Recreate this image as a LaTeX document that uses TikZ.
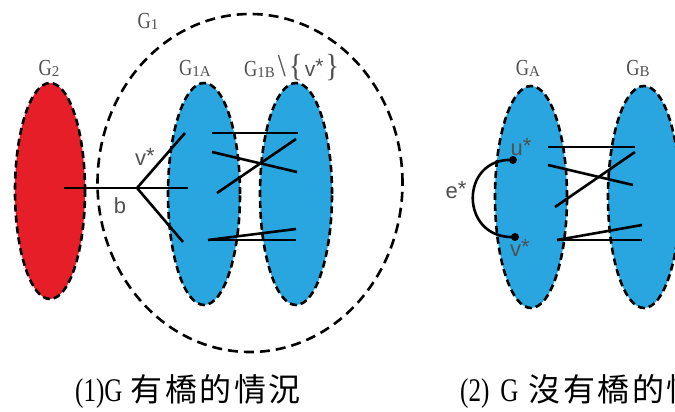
\documentclass[tikz,border=0pt]{standalone}
\usepackage{fontspec}
\setmainfont{Liberation Serif}
\setsansfont{Liberation Sans}
\newfontfamily\cjk[LetterSpace=8]{Noto Sans CJK TC}
\usetikzlibrary{shapes.geometric}
\definecolor{gred}{HTML}{E61E28}
\definecolor{gblue}{HTML}{29A6DF}
\definecolor{lbl}{HTML}{505050}
\newcommand{\gsub}[1]{{\fontsize{15}{15}\selectfont\raisebox{-1pt}{#1}}}
\newcommand{\gname}[1]{\scalebox{0.8}[1]{G}\gsub{#1}}
\newcommand{\narrow}[1]{\scalebox{0.76}[1]{#1}}
\newcommand{\bigsym}[1]{{\fontsize{32}{32}\selectfont\scalebox{0.9}[1]{#1}}}
\begin{document}
\begin{tikzpicture}[x=1pt,y=-1pt,
  blob/.style={ellipse, draw=black, line width=2.6pt, dash pattern=on 7pt off 4pt, inner sep=0pt, minimum width=72pt, minimum height=222pt},
  bigring/.style={ellipse, draw=black, line width=2.6pt, dash pattern=on 10pt off 6pt, inner sep=0pt, minimum width=305pt, minimum height=338pt},
  edgeline/.style={line width=2.6pt, black},
  glabel/.style={font=\fontsize{23}{23}\selectfont, text=lbl, inner sep=0pt},
  vlabel/.style={font=\sffamily\fontsize{22}{22}\selectfont, text=lbl, inner sep=0pt},
  captext/.style={font=\fontsize{33}{33}\selectfont, text=black, inner sep=0pt, anchor=base west},
  dotv/.style={circle, fill=black, inner sep=0pt, minimum size=8pt}
]
\useasboundingbox (0,0) rectangle (675,412);
\clip (0,0) rectangle (675,412);
\fill[white] (0,0) rectangle (675,412);

% ---------- left figure ----------
\node[bigring] (G1) at (250,183) {};
\node[blob, fill=gred, minimum width=70pt, minimum height=216pt] (G2) at (50,191) {};
\node[blob, fill=gblue] (G1A) at (204,194) {};
\node[blob, fill=gblue] (G1B) at (296,194) {};

\node[glabel] (lG2) at (49,68) {\gname{2}};
\node[glabel] (lG1) at (148,21) {\gname{1}};
\node[glabel] (lG1A) at (195,68) {\gname{1A}};
\node[glabel, anchor=west] (lG1B) at (244,68) {\gname{1B}\hspace{3pt}\bigsym{\textbackslash}\hspace{3pt}\bigsym{\{}\hspace{2pt}{\sffamily\fontsize{21}{21}\selectfont v\raisebox{3pt}{*}}\hspace{2pt}\bigsym{\}}};

\coordinate (b) at (137,188);
\coordinate (g2e) at (64,188);
\coordinate (a1) at (185,133);
\coordinate (a2) at (188,188);
\coordinate (a3) at (183,242);
\draw[edgeline] (g2e) -- (b);
\draw[edgeline] (b) -- (a1);
\draw[edgeline] (b) -- (a2);
\draw[edgeline] (b) -- (a3);
\node[vlabel] (lv) at (145,157) {v\raisebox{2pt}{*}};
\node[vlabel] (lb) at (120,206) {b};

\coordinate (p1) at (212,133); \coordinate (q1) at (298,133);
\coordinate (p2) at (212,152); \coordinate (q2) at (297,172);
\coordinate (p3) at (217,193); \coordinate (q3) at (296,139);
\coordinate (p4) at (208,240); \coordinate (q4) at (296,229);
\coordinate (q5) at (296,240);
\draw[edgeline] (p1) -- (q1);
\draw[edgeline] (p2) -- (q2);
\draw[edgeline] (p3) -- (q3);
\draw[edgeline] (p4) -- (q4);
\draw[edgeline] (p4) -- (q5);

% ---------- right figure ----------
\node[blob, fill=gblue] (GA) at (531,197) {};
\node[blob, fill=gblue] (GB) at (644,197) {};
\node[glabel] (lGA) at (528,68) {\gname{A}};
\node[glabel] (lGB) at (638,68) {\gname{B}};

\node[dotv] (u) at (513,160) {};
\node[dotv] (v) at (515,237) {};
\draw[line width=2.6pt] (u.center) .. controls (459,157) and (459,240) .. (v.center);
\node[vlabel] (lu) at (521,147) {u\raisebox{2pt}{*}};
\node[vlabel] (lvv) at (520,248) {v\raisebox{2pt}{*}};
\node[vlabel] (le) at (456,190) {e\raisebox{2pt}{*}};

\coordinate (r1) at (548,147); \coordinate (s1) at (635,147);
\coordinate (r2) at (548,165); \coordinate (s2) at (633,185);
\coordinate (r3) at (555,207); \coordinate (s3) at (635,152);
\coordinate (r4) at (557,240); \coordinate (s4) at (642,225);
\coordinate (s5) at (642,240);
\draw[edgeline] (r1) -- (s1);
\draw[edgeline] (r2) -- (s2);
\draw[edgeline] (r3) -- (s3);
\draw[edgeline] (r4) -- (s4);
\draw[edgeline] (r4) -- (s5);

% ---------- captions ----------
\node[captext] (c1) at (75,401) {\narrow{(1)G}\hspace{8pt}{\cjk\fontsize{32}{32}\selectfont 有橋的情況}};
\node[captext] (c2) at (460,401) {\narrow{(2)}\hspace{11pt}\narrow{G}\hspace{10pt}{\cjk\fontsize{32}{32}\selectfont 沒有橋的情況}};
\end{tikzpicture}
\end{document}
